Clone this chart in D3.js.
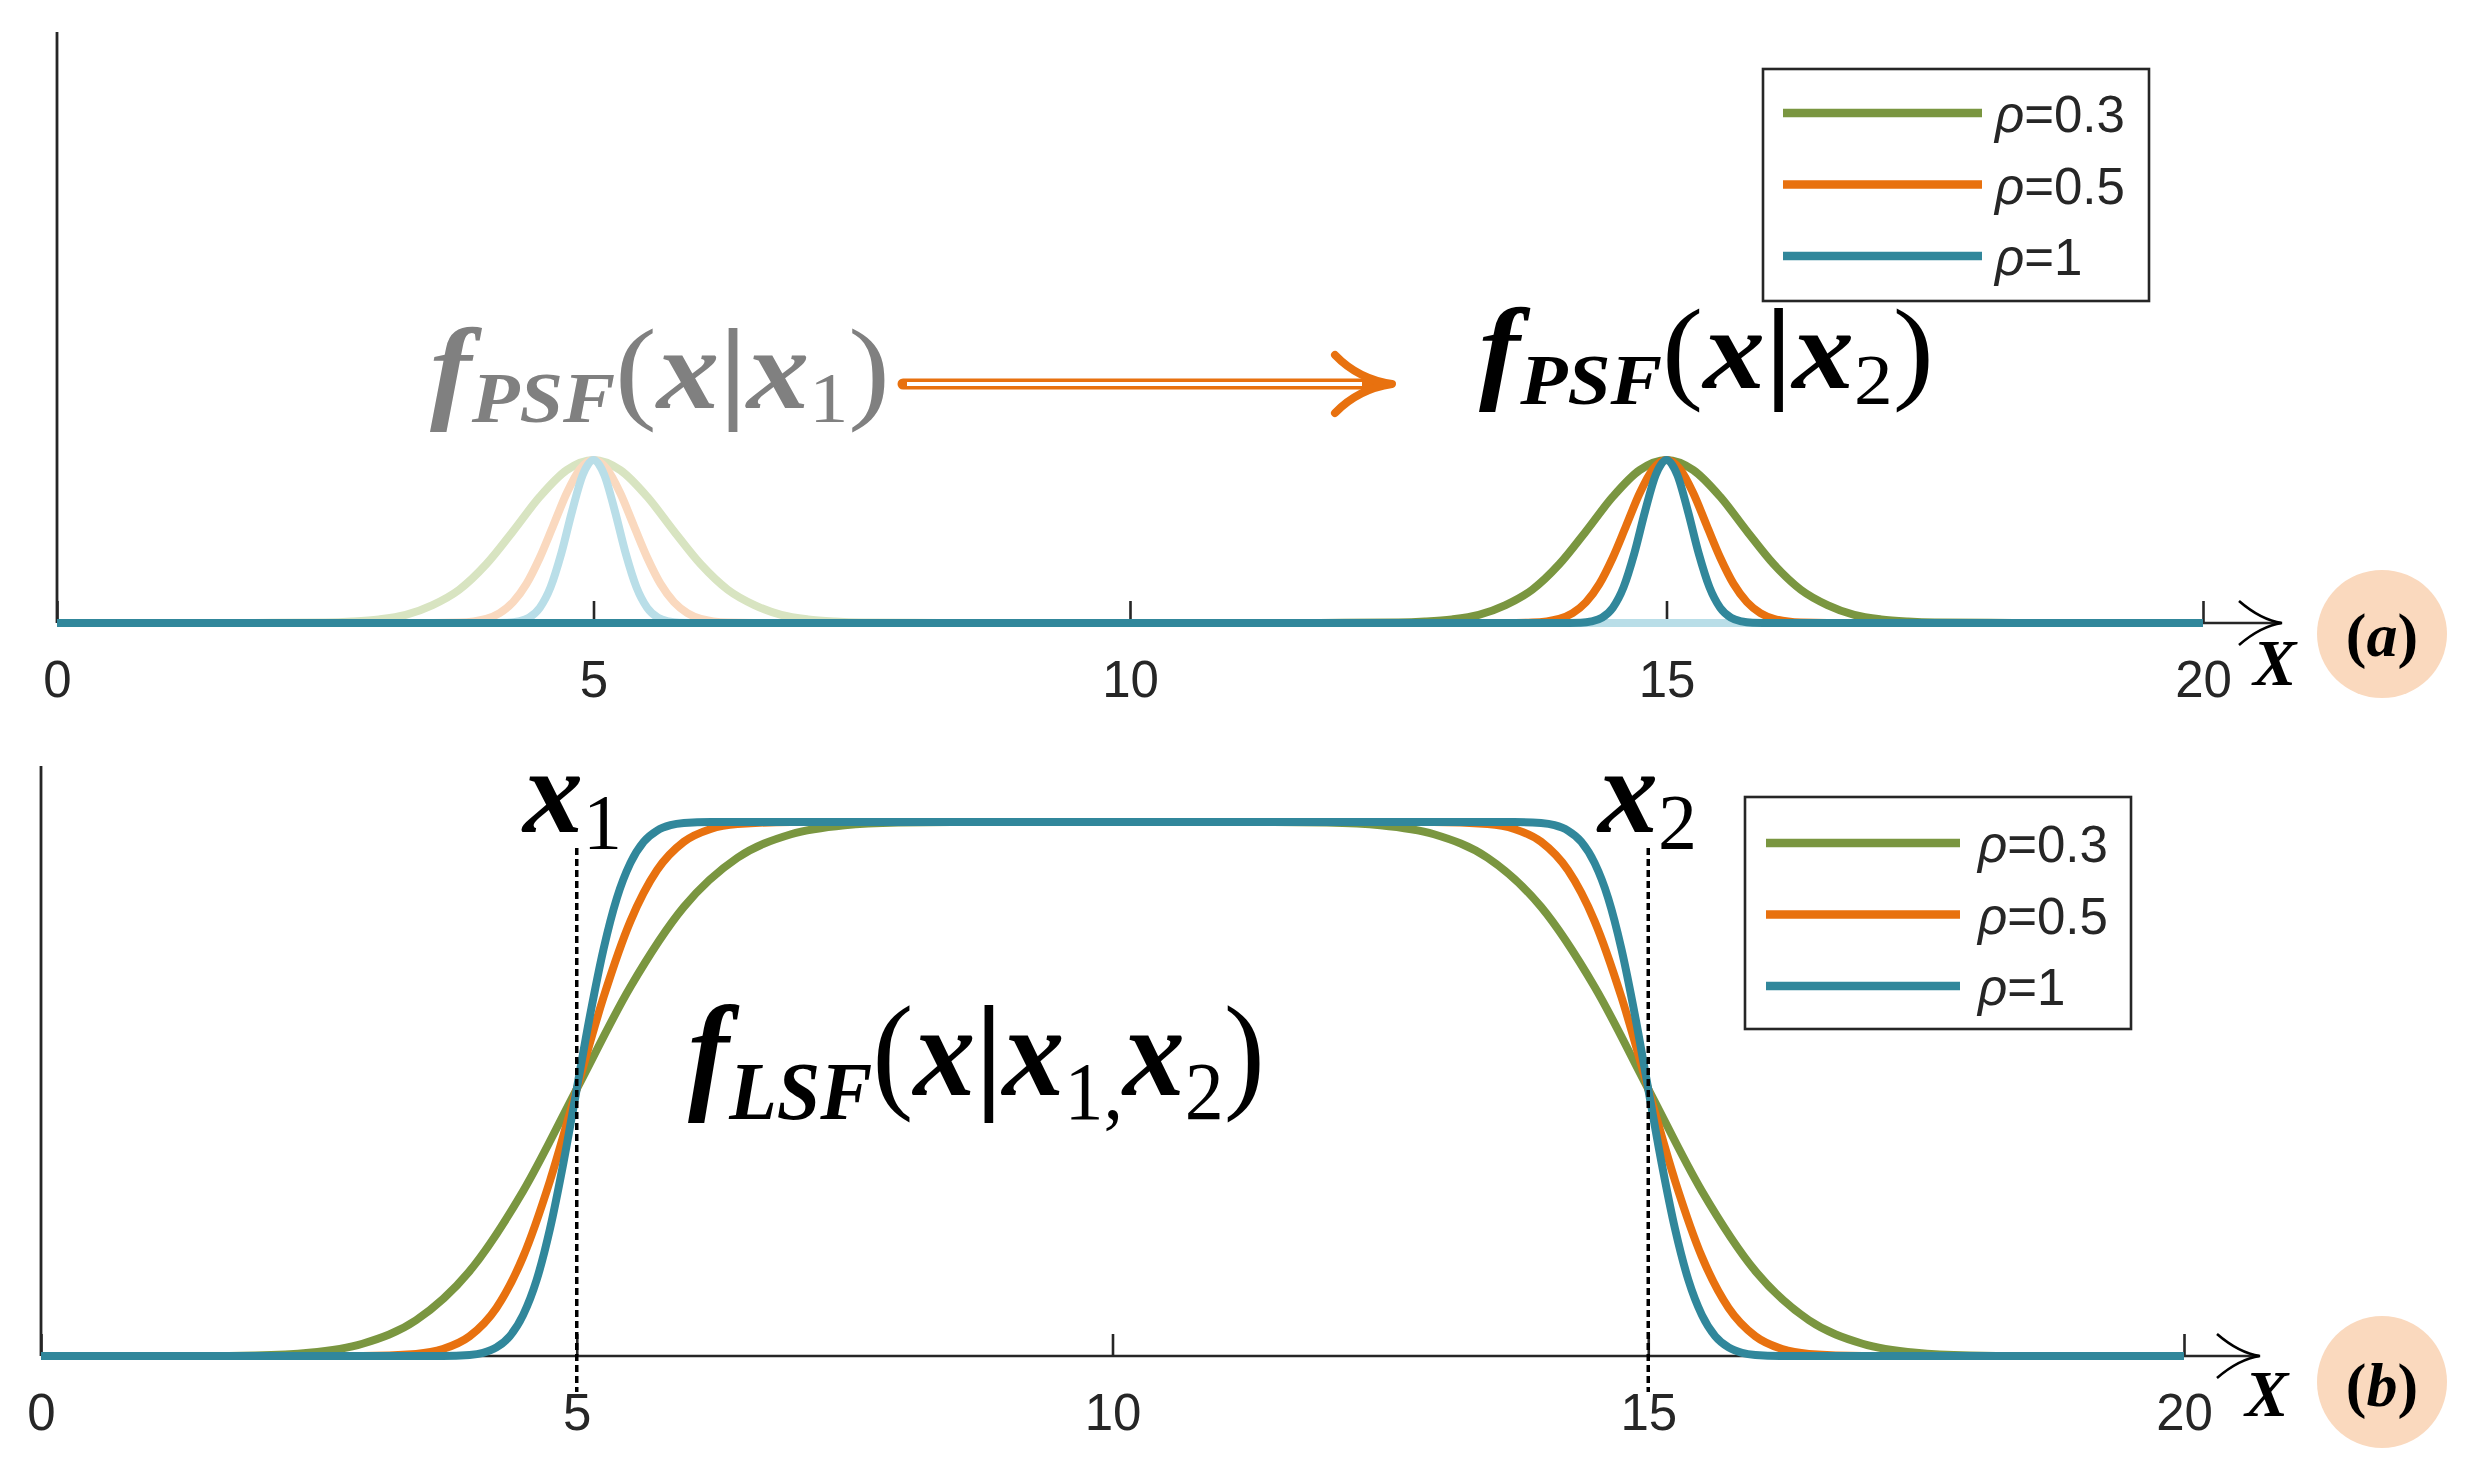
<!DOCTYPE html>
<html><head><meta charset="utf-8">
<script src="https://cdn.jsdelivr.net/npm/d3@7"></script>
<style>html,body{margin:0;padding:0;background:#fff;} svg{display:block}</style>
</head><body>
<svg id="chart" width="2473" height="1466"></svg>
<script>
// ---------------- data ----------------
const xTicks = [0, 5, 10, 15, 20];
const rhoValues = ["0.3", "0.5", "1"];
const psfCenters = [5, 15];          // x1 (faded copy), x2
const lsfEdges = [5, 15];            // x1, x2 (dashed markers)

// PSF profiles: offset from centre, normalised height
const psfOffsetRho03 = [-3.5,-3,-2.5,-2.25,-2,-1.75,-1.5,-1.25,-1,-0.75,-0.5,-0.25,0,0.25,0.5,0.75,1,1.25,1.5,1.75,2,2.25,2.5,3,3.5];
const psfValueRho03  = [0,0.001,0.003,0.009,0.022,0.05,0.11,0.205,0.36,0.563,0.775,0.938,1,0.938,0.775,0.563,0.36,0.205,0.11,0.05,0.022,0.009,0.003,0.001,0];
const psfOffsetRho05 = [-2,-1.5,-1.25,-1,-0.875,-0.75,-0.625,-0.5,-0.375,-0.25,-0.125,0,0.125,0.25,0.375,0.5,0.625,0.75,0.875,1,1.25,1.5,2];
const psfValueRho05  = [0,0,0.003,0.026,0.061,0.128,0.24,0.402,0.598,0.796,0.945,1,0.945,0.796,0.598,0.402,0.24,0.128,0.061,0.026,0.003,0,0];
const psfOffsetRho1  = [-1.5,-1,-0.8,-0.7,-0.6,-0.5,-0.4,-0.3,-0.2,-0.1,0,0.1,0.2,0.3,0.4,0.5,0.6,0.7,0.8,1,1.5];
const psfValueRho1   = [0,0,0.002,0.01,0.033,0.094,0.22,0.427,0.685,0.91,1,0.91,0.685,0.427,0.22,0.094,0.033,0.01,0.002,0,0];

// LSF curves
const lsfXRho03 = [0,1.5,2,2.5,3,3.5,4,4.5,5,5.5,6,6.5,7,7.5,8,8.5,10,11.5,12,12.5,13,13.5,14,14.5,15,15.5,16,16.5,17,17.5,18,18.5,20];
const lsfYRho03 = [0,0,0.001,0.006,0.023,0.067,0.159,0.309,0.5,0.691,0.841,0.933,0.977,0.994,0.999,1,1,1,0.999,0.994,0.977,0.933,0.841,0.691,0.5,0.309,0.159,0.067,0.023,0.006,0.001,0,0];
const lsfXRho05 = [0,3,3.5,3.75,4,4.25,4.5,4.75,5,5.25,5.5,5.75,6,6.25,6.5,7,10,13,13.5,13.75,14,14.25,14.5,14.75,15,15.25,15.5,15.75,16,16.25,16.5,17,20];
const lsfYRho05 = [0,0,0.004,0.013,0.037,0.09,0.186,0.328,0.5,0.672,0.814,0.91,0.963,0.987,0.996,1,1,1,0.996,0.987,0.963,0.91,0.814,0.672,0.5,0.328,0.186,0.09,0.037,0.013,0.004,0,0];
const lsfXRho1 = [0,3.75,4,4.125,4.25,4.375,4.5,4.625,4.75,4.875,5,5.125,5.25,5.375,5.5,5.625,5.75,5.875,6,6.25,10,13.75,14,14.125,14.25,14.375,14.5,14.625,14.75,14.875,15,15.125,15.25,15.375,15.5,15.625,15.75,15.875,16,16.25,20];
const lsfYRho1 = [0,0,0.002,0.006,0.016,0.037,0.077,0.142,0.238,0.361,0.5,0.639,0.762,0.858,0.923,0.963,0.984,0.994,0.998,1,1,1,0.998,0.994,0.984,0.963,0.923,0.858,0.762,0.639,0.5,0.361,0.238,0.142,0.077,0.037,0.016,0.006,0.002,0,0];

// ---------------- styles ----------------
const COLORS = ["#7A9640", "#E8710F", "#31879B"];
const FADED  = ["#D8E4C1", "#FAD9BF", "#B9DEE8"];
const AX = "#262626";
const SERIF = "'Liberation Serif','Times New Roman',serif";
const SANS = "'Liberation Sans',Arial,sans-serif";

const svg = d3.select("#chart");
svg.append("rect").attr("width", 2473).attr("height", 1466).attr("fill", "#fff");

const psfProfiles = [
  [psfOffsetRho03, psfValueRho03],
  [psfOffsetRho05, psfValueRho05],
  [psfOffsetRho1, psfValueRho1]
];
const lsfCurves = [[lsfXRho03, lsfYRho03], [lsfXRho05, lsfYRho05], [lsfXRho1, lsfYRho1]];

function psfSeries(i, c) {
  const [off, val] = psfProfiles[i];
  const pts = [{x: 0, y: 0}];
  off.forEach((o, k) => pts.push({x: c + o, y: val[k]}));
  pts.push({x: 20, y: 0});
  return pts;
}

// ---------- axis helper ----------
function drawAxes(g, x, yBase, yTop, arrowEnd, tickLen) {
  const axis = d3.axisBottom(x).tickValues(xTicks).tickSizeInner(-tickLen).tickSizeOuter(0)
    .tickPadding(74 - 0.71 * 51);
  const ag = g.append("g").attr("transform", `translate(0,${yBase})`).call(axis);
  ag.select(".domain").remove();
  ag.selectAll(".tick line").attr("stroke", AX).attr("stroke-width", 2.6);
  ag.selectAll(".tick text").attr("font-family", SANS).attr("font-size", 51).attr("fill", AX);
  const [x0, x1] = x.range();
  // x axis line with arrow
  g.append("line").attr("x1", x0).attr("x2", arrowEnd).attr("y1", yBase).attr("y2", yBase)
    .attr("stroke", AX).attr("stroke-width", 2.6);
  g.append("path")
    .attr("d", `M${arrowEnd - 42},${yBase - 22} Q${arrowEnd - 20},${yBase - 3} ${arrowEnd + 1},${yBase} Q${arrowEnd - 20},${yBase + 3} ${arrowEnd - 42},${yBase + 22}`)
    .attr("fill", "none").attr("stroke", "#000").attr("stroke-width", 2.6);
  // y axis line
  g.append("line").attr("x1", x0).attr("x2", x0).attr("y1", yTop).attr("y2", yBase)
    .attr("stroke", AX).attr("stroke-width", 2.8);
}

function drawLegend(g, bx, by, lx0, lx1, ly0, tx) {
  g.append("rect").attr("x", bx).attr("y", by).attr("width", 386).attr("height", 232)
    .attr("fill", "#fff").attr("stroke", AX).attr("stroke-width", 2.6);
  rhoValues.forEach((v, i) => {
    const ly = ly0 + i * 71.5;
    g.append("line").attr("x1", lx0).attr("x2", lx1).attr("y1", ly).attr("y2", ly)
      .attr("stroke", COLORS[i]).attr("stroke-width", 8.5);
    const t = g.append("text").attr("x", tx).attr("y", ly + 19).attr("font-family", SANS)
      .attr("font-size", 51).attr("fill", AX);
    t.append("tspan").attr("font-style", "italic").text("ρ");
    t.append("tspan").text("=" + v);
  });
}

function fitText(g, left, width) {
  const bb = g.node().getBBox();
  const s = width / bb.width;
  g.attr("transform", `translate(${left - bb.x * s},0) scale(${s},1)`);
}

// math label: parts = [{t, sub, style}]
function mathLabel(parent, parts, baseline, size, subSize, subDy, color, left, width) {
  const g = parent.append("g");
  const t = g.append("text").attr("x", 0).attr("y", baseline).attr("font-family", SERIF)
    .attr("font-size", size).attr("fill", color);
  let inSub = false;
  parts.forEach(p => {
    const ts = t.append("tspan").text(p.t);
    if (p.bi) ts.attr("font-weight", "bold").attr("font-style", "italic");
    if (p.b) ts.attr("font-weight", "bold");
    if (p.sub && !inSub) { ts.attr("dy", subDy); inSub = true; }
    else if (!p.sub && inSub) { ts.attr("dy", -subDy); inSub = false; }
    if (p.sub) ts.attr("font-size", subSize);
  });
  fitText(g, left, width);
  return g;
}

const curveLine = (x, y) => d3.line().x(d => x(d.x)).y(d => y(d.y)).curve(d3.curveMonotoneX);

// ================= Panel (a) =================
{
  const g = svg.append("g");
  const x = d3.scaleLinear().domain([0, 20]).range([57, 2203]);
  const y = d3.scaleLinear().domain([0, 1]).range([623, 460]);
  drawAxes(g, x, 623, 32, 2281, 22);
  const line = curveLine(x, y);
  // faded PSF at x1
  [0, 1, 2].forEach(i => {
    g.append("path").attr("d", line(psfSeries(i, psfCenters[0]))).attr("fill", "none")
      .attr("stroke", FADED[i]).attr("stroke-width", 8);
  });
  // full PSF at x2
  [0, 1, 2].forEach(i => {
    g.append("path").attr("d", line(psfSeries(i, psfCenters[1]))).attr("fill", "none")
      .attr("stroke", COLORS[i]).attr("stroke-width", 8);
  });
  drawLegend(g, 1763, 69, 1783, 1982, 113, 1995);

  // labels
  mathLabel(g, [
    {t: "f", bi: true}, {t: "PSF", bi: true, sub: true}, {t: "("}, {t: "x", bi: true},
    {t: "|", b: true}, {t: "x", bi: true}, {t: "1", sub: true}, {t: ")"}
  ], 408, 115, 72, 14, "#808080", 430, 460);
  mathLabel(g, [
    {t: "f", bi: true}, {t: "PSF", bi: true, sub: true}, {t: "("}, {t: "x", bi: true},
    {t: "|", b: true}, {t: "x", bi: true}, {t: "2", sub: true}, {t: ")"}
  ], 388, 115, 72, 16, "#000", 1479, 455);

  // hollow double arrow
  g.append("line").attr("x1", 903).attr("x2", 1380).attr("y1", 384).attr("y2", 384)
    .attr("stroke", "#E8710F").attr("stroke-width", 11).attr("stroke-linecap", "round");
  g.append("line").attr("x1", 907).attr("x2", 1362).attr("y1", 384).attr("y2", 384)
    .attr("stroke", "#fff").attr("stroke-width", 4);
  g.append("path").attr("d", "M1335,355 Q1358,379 1392,384 Q1358,389 1335,413")
    .attr("fill", "none").attr("stroke", "#E8710F").attr("stroke-width", 8)
    .attr("stroke-linecap", "round").attr("stroke-linejoin", "round");

  // X label and (a)
  g.append("text").attr("x", 2253).attr("y", 685).attr("font-family", SERIF).attr("font-size", 65)
    .attr("font-weight", "bold").attr("font-style", "italic").attr("fill", "#000").text("X");
  g.append("ellipse").attr("cx", 2382).attr("cy", 634).attr("rx", 65).attr("ry", 64).attr("fill", "#FAD9BE");
  const ta = g.append("text").attr("x", 2382).attr("y", 656).attr("text-anchor", "middle")
    .attr("font-family", SERIF).attr("font-size", 62).attr("font-weight", "bold").attr("fill", "#000");
  ta.append("tspan").text("(");
  ta.append("tspan").attr("font-style", "italic").text("a");
  ta.append("tspan").text(")");
}

// ================= Panel (b) =================
{
  const g = svg.append("g");
  const x = d3.scaleLinear().domain([0, 20]).range([41, 2184]);
  const y = d3.scaleLinear().domain([0, 1]).range([1356, 822]);
  drawAxes(g, x, 1356, 766, 2259, 22);
  const line = curveLine(x, y);
  lsfCurves.forEach(([xs, ys], i) => {
    const pts = xs.map((v, k) => ({x: v, y: ys[k]}));
    g.append("path").attr("d", line(pts)).attr("fill", "none")
      .attr("stroke", COLORS[i]).attr("stroke-width", 8);
  });
  // dashed markers
  lsfEdges.forEach(e => {
    g.append("line").attr("x1", x(e)).attr("x2", x(e)).attr("y1", 848).attr("y2", 1392)
      .attr("stroke", "#000").attr("stroke-width", 3.5).attr("stroke-dasharray", "7,4");
  });
  drawLegend(g, 1745, 797, 1766, 1960, 843, 1978);

  // x1, x2 labels
  [["1", 523, 100], ["2", 1598, 100]].forEach(([s, left, w]) => {
    const t = g.append("text").attr("x", left).attr("y", 832).attr("font-family", SERIF)
      .attr("font-size", 120).attr("fill", "#000");
    t.append("tspan").attr("font-weight", "bold").attr("font-style", "italic").text("x");
    t.append("tspan").attr("font-size", 78).attr("dy", 16).text(s);
  });

  mathLabel(g, [
    {t: "f", bi: true}, {t: "LSF", bi: true, sub: true}, {t: "("}, {t: "x", bi: true},
    {t: "|", b: true}, {t: "x", bi: true}, {t: "1,", sub: true}, {t: "x", bi: true},
    {t: "2", sub: true}, {t: ")"}
  ], 1095, 130, 82, 24, "#000", 688, 577);

  g.append("text").attr("x", 2245).attr("y", 1416).attr("font-family", SERIF).attr("font-size", 65)
    .attr("font-weight", "bold").attr("font-style", "italic").attr("fill", "#000").text("X");
  g.append("ellipse").attr("cx", 2382).attr("cy", 1382).attr("rx", 65).attr("ry", 66).attr("fill", "#FAD9BE");
  const tb = g.append("text").attr("x", 2382).attr("y", 1406).attr("text-anchor", "middle")
    .attr("font-family", SERIF).attr("font-size", 62).attr("font-weight", "bold").attr("fill", "#000");
  tb.append("tspan").text("(");
  tb.append("tspan").attr("font-style", "italic").text("b");
  tb.append("tspan").text(")");
}
</script>
</body></html>
